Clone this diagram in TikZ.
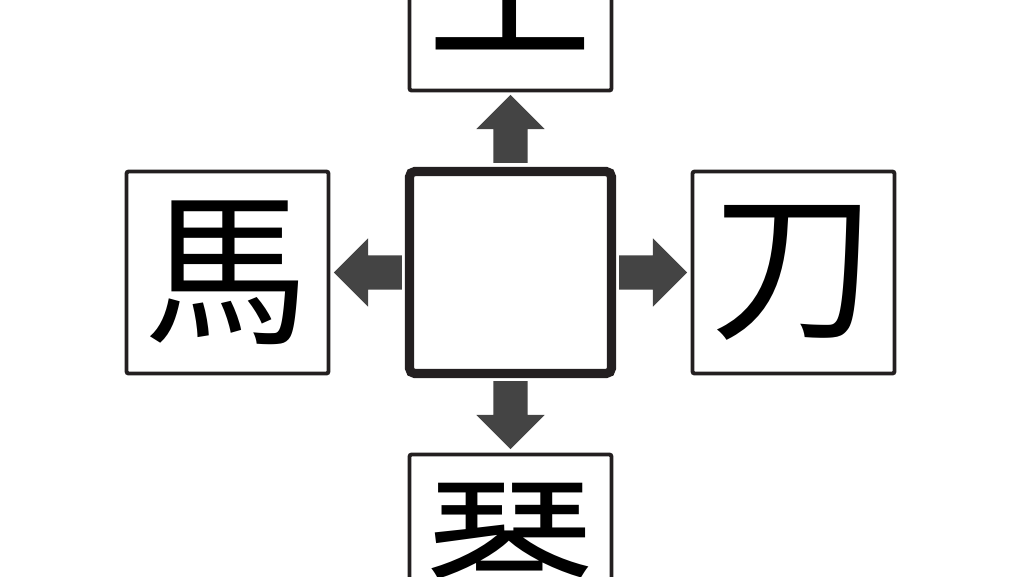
\documentclass[tikz,border=0pt]{standalone}
\usepackage{fontspec}
\newfontfamily\cjk{Noto Sans CJK JP}
\usetikzlibrary{shapes.arrows,positioning,calc}
\definecolor{boxline}{HTML}{231F20}
\definecolor{arrowgray}{HTML}{444444}
\begin{document}
\begin{tikzpicture}[
	kanji/.style={rectangle,draw=boxline,line width=1.1pt,minimum size=2.02cm,rounded corners=0.6pt,inner sep=0pt,font=\cjk\fontsize{47}{47}\selectfont},
	centre/.style={rectangle,draw=boxline,line width=2.6pt,minimum size=2.02cm,rounded corners=1.5pt},
	fat arrow/.style={single arrow,fill=arrowgray,draw=none,inner sep=0.165cm,single arrow head extend=0.17cm,minimum height=0.68cm,outer sep=0pt,anchor=tail},
	node distance=0.745cm]
\useasboundingbox (0,0) rectangle (10.24,-5.76);

\node [centre] (c) at (5.105,-2.725) {};
\node [kanji,above=of c] (w1) {工};
\node [kanji,left=of c] (w2) {馬};
\node [kanji,right=of c] (w3) {刀};
\node [kanji,below=of c] (w4) {琴};

% arrows go out from the middle box
\node [fat arrow,shape border rotate=90] (a1) at ($(c.north)+(0,0.04)$) {};
\node [fat arrow,shape border rotate=180] (a2) at ($(c.west)+(-0.03,0)$) {};
\node [fat arrow] (a3) at ($(c.east)+(0.03,0)$) {};
\node [fat arrow,shape border rotate=270] (a4) at ($(c.south)+(0,-0.03)$) {};
\end{tikzpicture}
\end{document}
